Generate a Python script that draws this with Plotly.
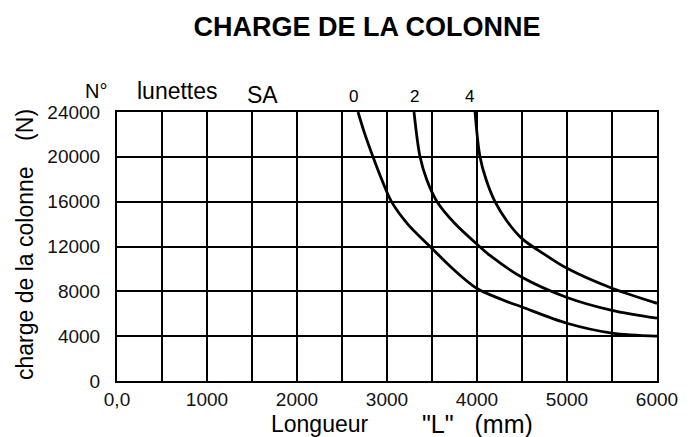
import plotly.graph_objects as go

# Data
longueur_0 = [2678, 2755, 2844, 2940, 3050, 3230, 3478, 3740, 4000, 4250, 4500, 5000, 5500, 6000]
charge_0 = [24000, 22000, 20000, 18000, 16000, 14000, 12000, 9950, 8250, 7350, 6600, 5150, 4270, 4000]

longueur_2 = [3300, 3367, 3440, 3556, 3760, 4000, 4144, 4500, 5000, 5500, 6000]
charge_2 = [24000, 20000, 18000, 16000, 14000, 12200, 11200, 9250, 7450, 6300, 5600]

longueur_4 = [3978, 4033, 4100, 4200, 4330, 4500, 4750, 5000, 5500, 6000]
charge_4 = [24000, 20000, 18000, 16000, 14300, 12700, 11300, 10050, 8270, 6930]

x_tickvals = [0, 500, 1000, 1500, 2000, 2500, 3000, 3500, 4000, 4500, 5000, 5500, 6000]
x_ticktext = ["0,0", "", "1000", "", "2000", "", "3000", "", "4000", "", "5000", "", "6000"]
y_tickvals = [0, 4000, 8000, 12000, 16000, 20000, 24000]
y_ticktext = ["0", "4000", "8000", "12000", "16000", "20000", "24000"]

W, H = 698, 437
L, R, T, B = 117, 657, 112, 381


def px(x):
    return (x - L) / (R - L)


def py(y):
    return (B - y) / (B - T)


fig = go.Figure()
for xs, ys in [(longueur_0, charge_0), (longueur_2, charge_2), (longueur_4, charge_4)]:
    fig.add_trace(go.Scatter(x=xs, y=ys, mode="lines",
                             line=dict(color="black", width=2.8, shape="spline", smoothing=0.9),
                             showlegend=False, hoverinfo="skip"))

tick_font = dict(family="Liberation Sans, Arial, sans-serif", size=19, color="#111")

fig.update_xaxes(range=[0, 6000], tickvals=x_tickvals, ticktext=x_ticktext,
                 showgrid=True, gridcolor="black", gridwidth=2,
                 showline=True, linecolor="black", linewidth=2, mirror=True,
                 zeroline=False, ticks="", tickfont=tick_font, ticklabelstandoff=0)
fig.update_yaxes(range=[0, 24000], tickvals=y_tickvals, ticktext=y_ticktext,
                 showgrid=True, gridcolor="black", gridwidth=2,
                 showline=True, linecolor="black", linewidth=2, mirror=True,
                 zeroline=False, ticks="", tickfont=tick_font, ticklabelstandoff=11)

ann_font = dict(family="Liberation Sans, Arial, sans-serif", color="black")
annotations = [
    dict(text="N°", x=px(96), y=py(91), size=20),
    dict(text="lunettes", x=px(177), y=py(91), size=23),
    dict(text="SA", x=px(262), y=py(95), size=23),
    dict(text="0", x=px(353), y=py(97), size=17),
    dict(text="2", x=px(414), y=py(97), size=17),
    dict(text="4", x=px(469), y=py(97), size=17),
    dict(text="Longueur", x=px(320), y=py(424), size=23),
    dict(text="\"L\"\u00a0\u00a0\u00a0(mm)", x=px(477), y=py(424), size=25),
]
for a in annotations:
    fig.add_annotation(text=a["text"], x=a["x"], y=a["y"], xref="paper", yref="paper",
                       xanchor="center", yanchor="middle", showarrow=False,
                       font=dict(size=a["size"], **ann_font))

fig.add_annotation(text="charge de la colonne\u00a0\u00a0\u00a0\u00a0(N)", x=px(25), y=py(245),
                   xref="paper", yref="paper", xanchor="center", yanchor="middle",
                   textangle=-90, showarrow=False, font=dict(size=23, **ann_font))

fig.update_layout(
    width=W, height=H,
    margin=dict(l=L, r=W - R, t=T, b=H - B),
    paper_bgcolor="white", plot_bgcolor="white",
    title=dict(text="<b>CHARGE DE LA COLONNE</b>", x=367 / W, y=1 - 27 / H,
               xanchor="center", yanchor="middle",
               font=dict(family="Liberation Sans, Arial, sans-serif", size=27, color="black")),
)

fig.write_html("out.html", config={"displayModeBar": False},
               post_script="document.body.style.margin='0';document.body.style.overflow='hidden';")
